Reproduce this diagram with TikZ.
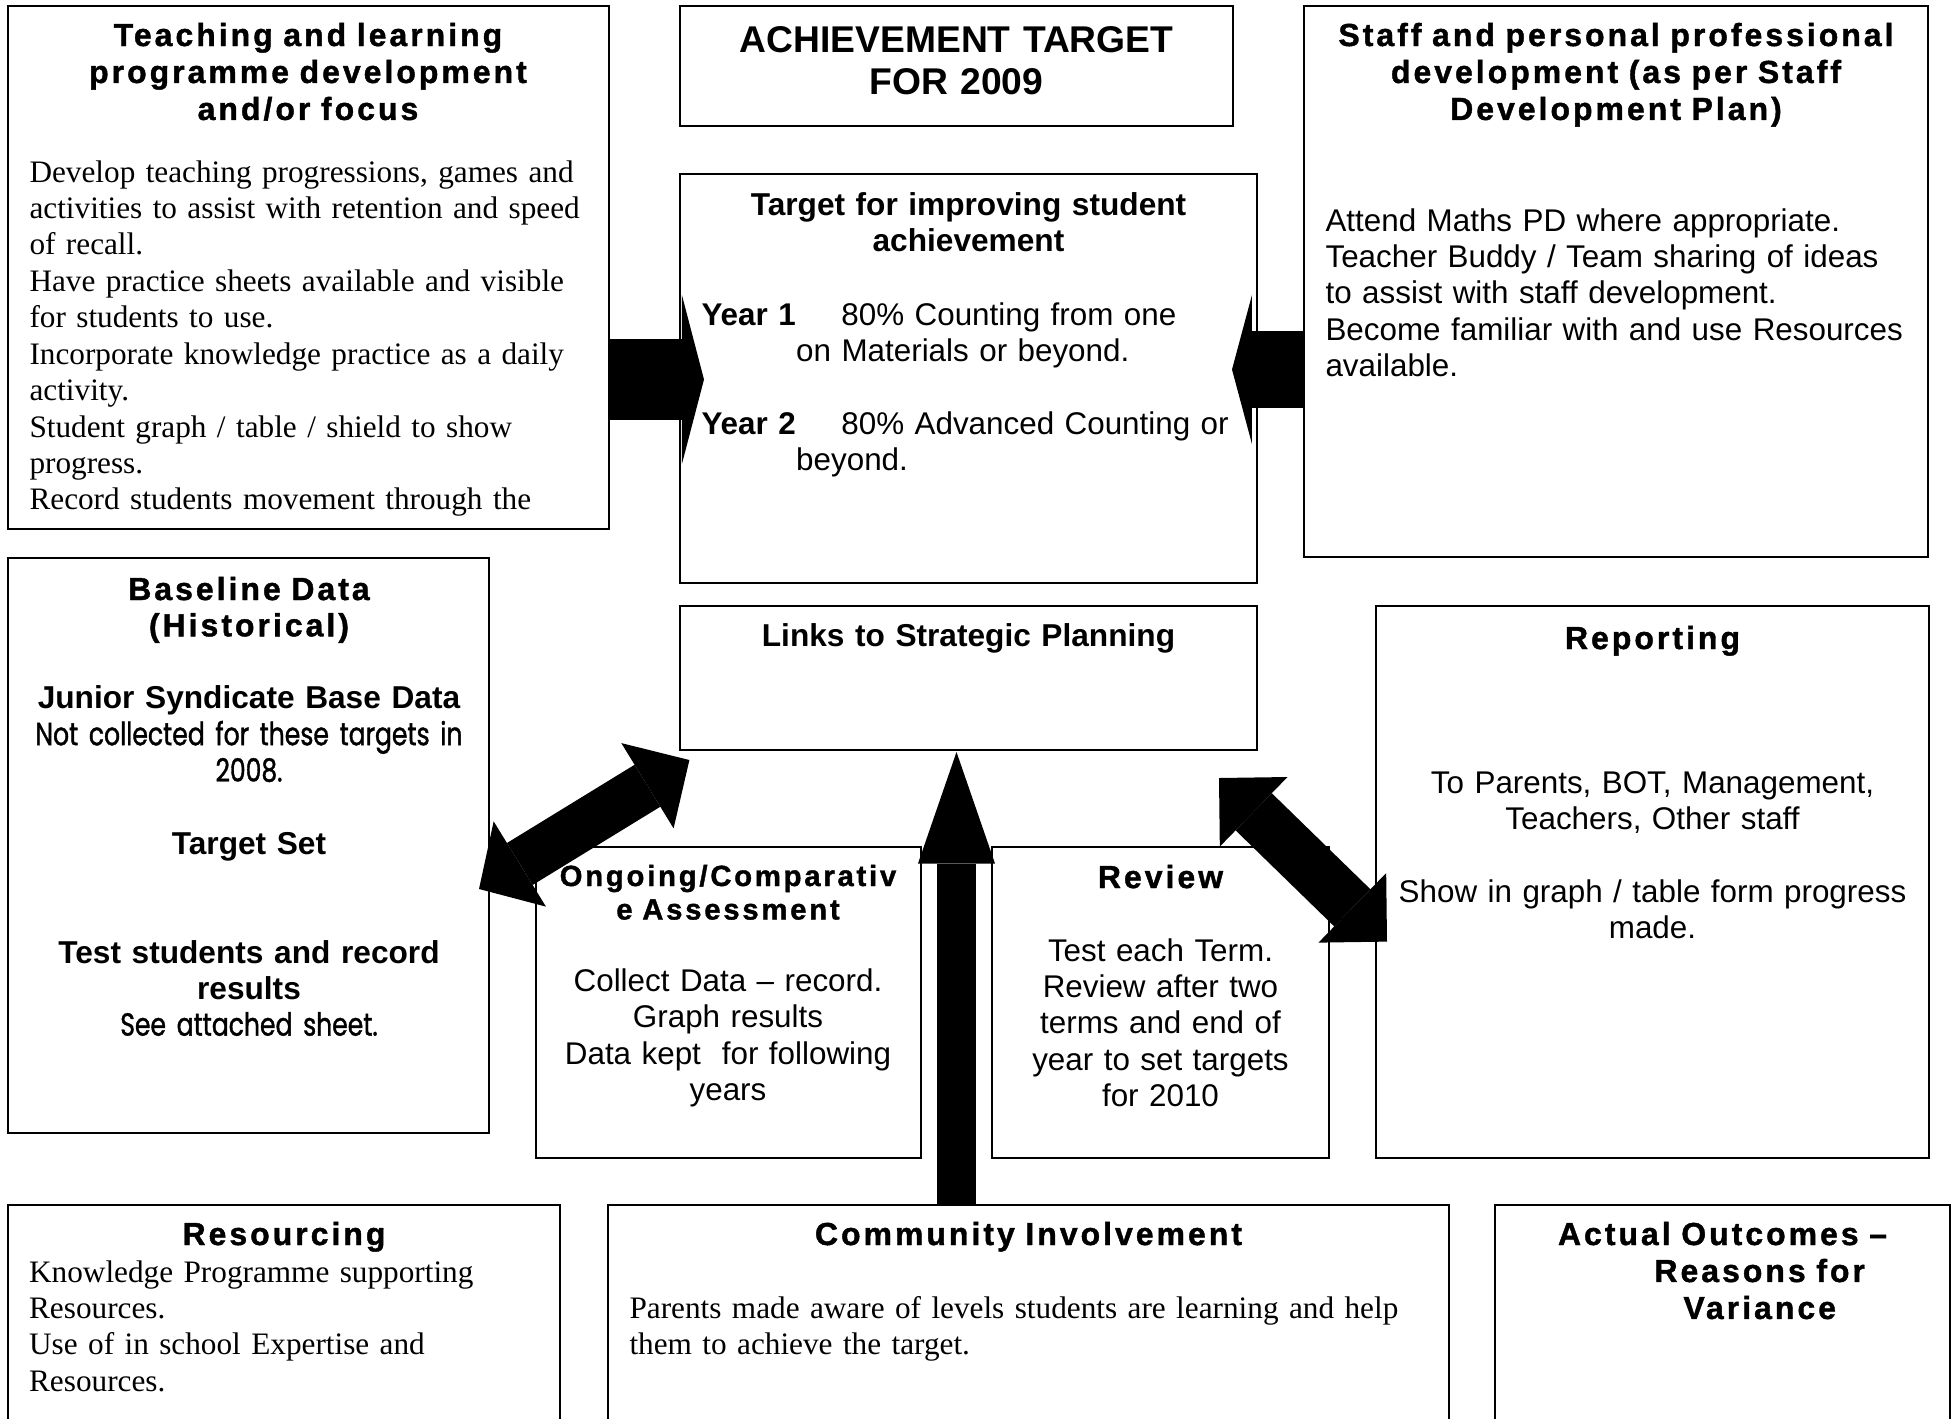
\documentclass[tikz,border=0pt]{standalone}
\usepackage{fontspec}
\setmainfont{Liberation Serif}
\setsansfont{Liberation Sans}
\newfontfamily\spacedfont{Liberation Sans}[LetterSpace=9.5, BoldFeatures={FakeBold=1.3}]
\newfontfamily\roundfont{Poppins}[FakeStretch=0.785, FakeBold=1.2]
\usepackage{tikz}
\usetikzlibrary{arrows.meta}
\def\px{0.376pt}
\def\skipA{13.7pt}

\begin{document}
\begin{tikzpicture}[x=\px, y=\px]
    \tikzstyle{box}=[draw, line width=0.8pt, inner sep=0pt, outer sep=0pt, anchor=north west]
    \tikzstyle{title}=[inner sep=0pt, anchor=base, align=center, font=\spacedfont\bfseries\fontsize{12}{13.9}\selectfont]
    \tikzstyle{ctext}=[inner sep=0pt, anchor=base, align=center, font=\sffamily\fontsize{11.8}{13.7}\selectfont]
    \tikzstyle{stext}=[inner sep=0pt, anchor=base west, align=left, font=\sffamily\fontsize{11.8}{13.7}\selectfont]
    \tikzstyle{rtext}=[inner sep=0pt, anchor=base west, align=left, font=\rmfamily\fontsize{11.75}{13.7}\selectfont]
    \tikzstyle{btext}=[ctext, font=\sffamily\bfseries\fontsize{11.9}{13.7}\selectfont]

    \useasboundingbox (0,0) rectangle (1953,-1418);
    \clip (0,0) rectangle (1953,-1418);

    % Draw the boxes
    \foreach \name / \xa / \ya / \xb / \yb in {teach/8/6/609/529, achieve/680/6/1233/126,
            target/680/174/1257/583, staff/1304/6/1928/557, history/8/558/489/1133,
            links/680/606/1257/750, report/1376/606/1929/1158, ongoing/536/847/921/1158,
            review/992/847/1329/1158, resource/8/1205/560/1440, community/608/1205/1449/1440,
            outcome/1495/1205/1950/1440}
        \path node[box, minimum width={(\xb-\xa)*\px}, minimum height={(\yb-\ya)*\px}] (\name) at (\xa,-\ya) {};

    % Top row
    \node[title, text width=215pt] (teach-t) at (308,-46) {Teaching and learning\\programme development\\and/or focus};
    \node[rtext, text width=225pt] (teach-b) at (29,-182) {Develop teaching progressions, games and\\activities to assist with retention and speed\\of recall.\\Have practice sheets available and visible\\for students to use.\\Incorporate knowledge practice as a daily\\activity.\\Student graph / table / shield to show\\progress.\\Record students movement through the};

    \node[btext, text width=200pt, font=\sffamily\bfseries\fontsize{14}{15.8}\selectfont] (achieve-t) at (956.5,-52) {ACHIEVEMENT TARGET\\FOR 2009};

    \node[btext, text width=200pt] (target-t) at (968.5,-215.5) {Target for improving student\\achievement};
    \node[stext, text width=215pt] (target-b) at (701,-325) {\makebox[52.6pt][l]{\bfseries Year 1}80\% Counting from one\\\hspace*{35.6pt}on Materials or beyond.\\[\skipA]\makebox[52.6pt][l]{\bfseries Year 2}80\% Advanced Counting or\\\hspace*{35.6pt}beyond.};

    \node[title, text width=230pt] (staff-t) at (1616,-46) {Staff and personal professional\\development (as per Staff\\Development Plan)};
    \node[stext, text width=225pt] (staff-b) at (1325,-231) {Attend Maths PD where appropriate.\\Teacher Buddy / Team sharing of ideas\\to assist with staff development.\\Become familiar with and use Resources\\available.};

    % Middle row
    \node[ctext, text width=176pt, font=\sffamily\fontsize{12}{13.65}\selectfont] (history-t) at (249,-600) {{\spacedfont\bfseries Baseline Data}\\{\spacedfont\bfseries (Historical)}\\[13.65pt]{\fontsize{11.9}{13.65}\selectfont\bfseries Junior Syndicate Base Data}\\{\roundfont Not collected for these targets in}\\{\roundfont 2008.}\\[13.65pt]{\fontsize{11.9}{13.65}\selectfont\bfseries Target Set}\\[27.3pt]{\fontsize{11.9}{13.65}\selectfont\bfseries Test students and record}\\{\fontsize{11.9}{13.65}\selectfont\bfseries results}\\{\roundfont See attached sheet.}};

    \node[btext, text width=200pt] (links-t) at (968.5,-646) {Links to Strategic Planning};

    \node[title, text width=100pt] (report-t) at (1652.5,-649) {Reporting};
    \node[ctext, text width=200pt] (report-b) at (1652.5,-793) {To Parents, BOT, Management,\\Teachers, Other staff\\[\skipA]Show in graph / table form progress\\made.};

    \node[title, text width=140pt, font=\spacedfont\bfseries\fontsize{11}{12.6}\selectfont] (ongoing-t) at (728,-886) {Ongoing/Comparativ\\e Assessment};
    \node[ctext, text width=140pt] (ongoing-b) at (728,-991.4) {Collect Data – record.\\Graph results\\Data kept\ \ for following\\years};

    \node[title, text width=100pt] (review-t) at (1160.5,-888) {Review};
    \node[ctext, text width=120pt] (review-b) at (1160.5,-961) {Test each Term.\\Review after two\\terms and end of\\year to set targets\\for 2010};

    % Bottom row
    \node[title, text width=150pt] (resource-t) at (284,-1245) {Resourcing};
    \node[rtext, text width=200pt] (resource-b) at (28.6,-1282) {Knowledge Programme supporting\\Resources.\\Use of in school Expertise and\\Resources.};

    \node[title, text width=250pt] (community-t) at (1028.5,-1245) {Community Involvement};
    \node[rtext, text width=300pt] (community-b) at (629,-1318) {Parents made aware of levels students are learning and help\\them to achieve the target.};

    \node[title, text width=165pt] (outcome-t) at (1722.5,-1245) {Actual Outcomes –\\\hspace*{28pt}Reasons for\\\hspace*{28pt}Variance};

    % Draw the block arrows
    \coordinate (tipA) at (704,-379.5);
    \coordinate (tipB) at (1232,-369.5);
    \coordinate (tipC) at (956.5,-752);
    \coordinate (endD1) at (479,-889);
    \coordinate (endD2) at (689.4,-760);
    \coordinate (endE1) at (1219,-778);
    \coordinate (endE2) at (1387,-941.6);

    \draw[line width=30.5pt, -{Triangle[length=8.3pt, width=63.5pt, line width=0pt]}] (teach.east |- tipA) -- (tipA);
    \draw[line width=28.6pt, -{Triangle[length=7.5pt, width=56pt, line width=0pt]}] (staff.west |- tipB) -- (tipB);
    \draw[line width=15pt, -{Triangle[length=42pt, width=29pt, line width=0pt]}] (tipC |- community.north) -- (tipC);
    \draw[line width=18.5pt, {Triangle[length=18pt, width=37.6pt, line width=0pt]}-{Triangle[length=18.5pt, width=37.6pt, line width=0pt]}] (endD1) -- (endD2);
    \draw[line width=19.5pt, {Triangle[length=18.2pt, width=36.5pt, line width=0pt]}-{Triangle[length=18.2pt, width=36.5pt, line width=0pt]}] (endE1) -- (endE2);
\end{tikzpicture}
\end{document}
